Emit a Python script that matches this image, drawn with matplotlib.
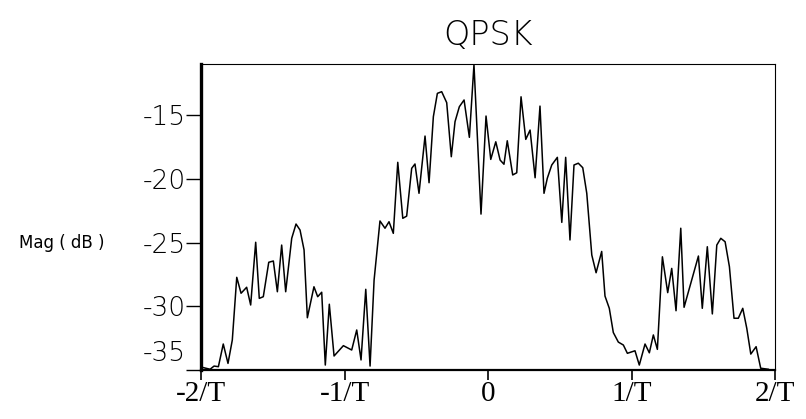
import matplotlib
matplotlib.use("Agg")
import matplotlib.pyplot as plt
from matplotlib.transforms import ScaledTranslation

# frequency (units of 1/T) and magnitude (dB) of the QPSK spectrum
freq = [
    -1.995, -1.937, -1.909, -1.879, -1.845, -1.812, -1.782, -1.751, -1.721, -1.682,
    -1.654, -1.619, -1.594, -1.566, -1.528, -1.496, -1.468, -1.438, -1.410, -1.368,
    -1.338, -1.310, -1.282, -1.259, -1.213, -1.187, -1.159, -1.134, -1.106, -1.073,
    -1.008, -0.950, -0.915, -0.885, -0.852, -0.822, -0.794, -0.753, -0.718, -0.690,
    -0.660, -0.629, -0.594, -0.567, -0.532, -0.509, -0.481, -0.439, -0.411, -0.381,
    -0.353, -0.323, -0.288, -0.256, -0.230, -0.200, -0.167, -0.130, -0.098, -0.049,
    -0.014, 0.019, 0.054, 0.084, 0.111, 0.134, 0.172, 0.200, 0.230, 0.263,
    0.293, 0.328, 0.362, 0.390, 0.413, 0.444, 0.483, 0.514, 0.541, 0.571,
    0.599, 0.629, 0.660, 0.688, 0.723, 0.753, 0.792, 0.815, 0.845, 0.873,
    0.908, 0.943, 0.971, 1.024, 1.054, 1.094, 1.124, 1.152, 1.180, 1.215,
    1.252, 1.280, 1.310, 1.343, 1.366, 1.466, 1.493, 1.528, 1.563, 1.594,
    1.622, 1.652, 1.682, 1.714, 1.744, 1.775, 1.803, 1.831, 1.868, 1.900,
    1.953,
]
mag_db = [
    -34.78, -34.94, -34.69, -34.74, -32.96, -34.48, -32.65, -27.73, -28.98, -28.51,
    -29.90, -24.98, -29.38, -29.25, -26.55, -26.45, -28.86, -25.20, -28.86, -24.67,
    -23.55, -24.02, -25.58, -30.90, -28.47, -29.25, -28.90, -34.61, -29.84, -33.90,
    -33.09, -33.43, -31.86, -34.21, -28.67, -34.69, -27.95, -23.31, -23.88, -23.37,
    -24.28, -18.71, -23.10, -22.93, -19.18, -18.84, -21.14, -16.65, -20.31, -15.13,
    -13.30, -13.17, -14.03, -18.27, -15.52, -14.35, -13.82, -16.75, -11.05, -22.77,
    -15.08, -18.48, -17.10, -18.53, -18.86, -17.02, -19.70, -19.53, -13.57, -16.91,
    -16.18, -19.92, -14.30, -21.14, -19.96, -18.92, -18.32, -23.42, -18.32, -24.80,
    -18.92, -18.78, -19.13, -21.14, -25.98, -27.37, -25.70, -29.20, -30.16, -32.06,
    -32.81, -33.04, -33.69, -33.49, -34.61, -32.96, -33.65, -32.25, -33.38, -26.12,
    -28.93, -27.03, -30.35, -23.88, -30.08, -26.06, -30.16, -25.33, -30.60, -25.20,
    -24.67, -24.94, -26.90, -30.94, -30.94, -30.16, -31.73, -33.75, -33.17, -34.86,
    -34.94,
]

x_ticks = [-2, -1, 0, 1, 2]
x_labels = ["-2/T", "-1/T", "0", "1/T", "2/T"]
y_ticks = [-15, -20, -25, -30, -35]

fig = plt.figure(figsize=(8.06, 4.19), dpi=100)
ax = fig.add_axes([0.2494, 0.1169, 0.7122, 0.7303])

ax.plot(freq, mag_db, color="black", linewidth=1.1)
ax.set_xlim(-2, 2)
ax.set_ylim(-35, -11)

for side, lw in [("left", 2.4), ("bottom", 1.6), ("top", 0.8), ("right", 0.8)]:
    ax.spines[side].set_linewidth(lw)

ax.set_xticks(x_ticks)
ax.set_xticklabels(x_labels, family="Liberation Serif", fontsize=21)
ax.tick_params(axis="x", direction="out", length=7, width=1.2, pad=1)

ax.set_yticks(y_ticks)
ax.set_yticklabels([str(v) for v in y_ticks], fontsize=19,
                   family="DejaVu Sans", fontweight=200)
ax.tick_params(axis="y", direction="out", length=11, width=1.0, pad=0)

# lift the bottom label above the axis line
lab = ax.get_yticklabels()[-1]
lab.set_transform(lab.get_transform() + ScaledTranslation(0, 0.19, fig.dpi_scale_trans))

fig.text(0.606, 0.915, "QPSK", ha="center", va="center", fontsize=24,
         fontweight=200, family="DejaVu Sans")
fig.text(0.077, 0.42, "Mag ( dB )", ha="center", va="center", fontsize=12,
         family="DejaVu Sans")

fig.savefig("out.png", dpi=100)
